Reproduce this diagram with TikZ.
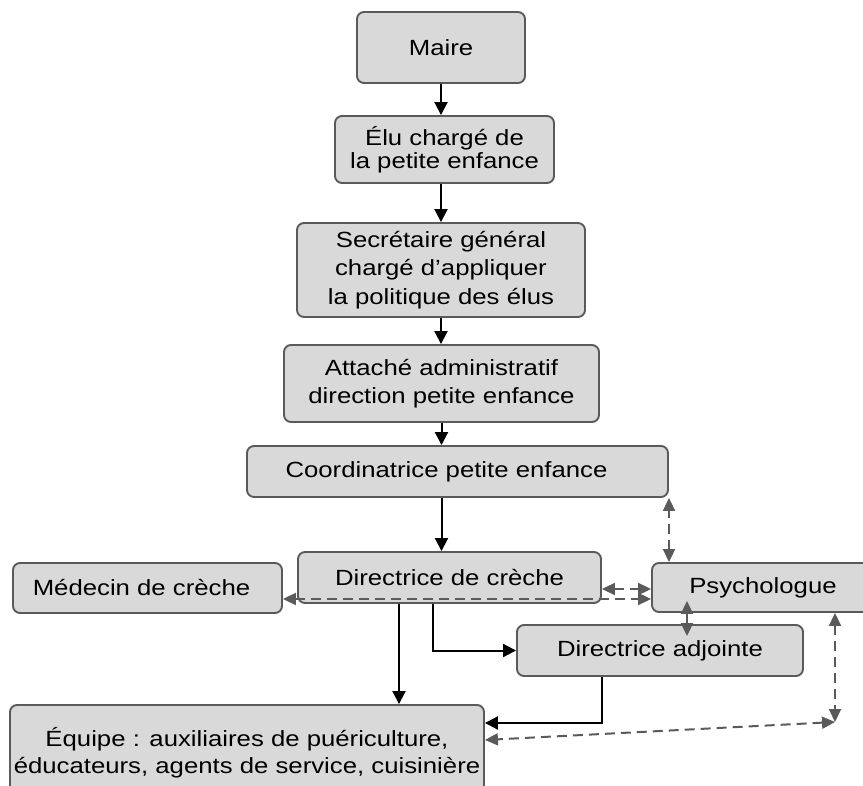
\documentclass[tikz,border=0pt]{standalone}
\usepackage{fontspec}
\setmainfont[FakeStretch=1.17]{Liberation Sans}
\usetikzlibrary{arrows.meta,calc}
\definecolor{boxfill}{HTML}{D9D9D9}
\definecolor{boxline}{HTML}{5A5A5A}
\definecolor{linkgray}{HTML}{5A5A5A}

\begin{document}
\begin{tikzpicture}[x=1pt,y=-1pt,
  orgbox/.style={draw=boxline, fill=boxfill, line width=1.9pt, rounded corners=7pt,
    inner sep=0pt, align=center, font=\fontsize{22}{28.5}\selectfont},
  solidlink/.style={draw=black, line width=2pt, -{Triangle[length=13pt,width=13pt]}},
  dlink/.style={draw=linkgray, line width=2pt, dash pattern=on 10pt off 6pt,
    {Triangle[length=13pt,width=12pt]}-{Triangle[length=13pt,width=12pt]}}
]
\useasboundingbox (0,0) rectangle (863,786);
\clip (0,0) rectangle (863,786);

% hierarchy boxes
\node[orgbox, minimum width=168pt, minimum height=71pt] (maire) at (441,47.5) {Maire};
\node[orgbox, minimum width=219pt, minimum height=67pt, font=\fontsize{22}{23}\selectfont]
  (elu) at (444.5,149.5) {Élu chargé de\\la petite enfance};
\node[orgbox, minimum width=288pt, minimum height=94pt] (secr) at (441,270)
  {Secrétaire général\\chargé d’appliquer\\la politique des élus};
\node[orgbox, minimum width=315pt, minimum height=77pt] (attache) at (441.5,383.5)
  {Attaché administratif\\direction petite enfance};
\node[orgbox, minimum width=421pt, minimum height=51pt] (coord) at (457.5,471.5)
  {Coordinatrice petite enfance\hspace*{22pt}};
\node[orgbox, minimum width=303pt, minimum height=51pt] (dir) at (449.5,577.5)
  {Directrice de crèche};
\node[orgbox, minimum width=269pt, minimum height=50pt] (med) at (147.5,588)
  {Médecin de crèche\hspace*{12pt}};
\node[orgbox, minimum width=222pt, minimum height=49pt] (psy) at (763,587.5)
  {Psychologue};
\node[orgbox, minimum width=286pt, minimum height=51pt] (adj) at (660,650.5)
  {Directrice adjointe};
\node[orgbox, minimum width=474pt, minimum height=95pt, font=\fontsize{22}{26.5}\selectfont]
  (equipe) at (247,752.5)
  {Équipe : auxiliaires de puériculture,\\éducateurs, agents de service, cuisinière};

% line of authority
\draw[solidlink] (maire.south) -- (maire.south |- elu.north);
\draw[solidlink] (maire.south |- elu.south) -- (maire.south |- secr.north);
\draw[solidlink] (maire.south |- secr.south) -- (maire.south |- attache.north);
\draw[solidlink] (attache.south) -- (attache.south |- coord.north);
\draw[solidlink] (attache.south |- coord.south) -- (attache.south |- dir.north);
\draw[solidlink] ([xshift=-50.5pt]dir.south) -- ([xshift=-50.5pt]dir.south |- equipe.north);
\draw[solidlink] ([xshift=-16.5pt]dir.south) |- (adj.west);
\draw[solidlink] ([xshift=-58pt]adj.south) |- ([yshift=29.5pt]equipe.east);

% collaboration links
\draw[dlink] ([xshift=-94pt]psy.north) -- ([xshift=-94pt]psy.north |- coord.south);
\draw[dlink] ([yshift=-11.5pt]dir.east) -- ([yshift=-11.5pt]dir.east -| psy.west);
\draw[dlink] ([yshift=-11pt]med.east) -- ([yshift=-11pt]med.east -| psy.west);
\draw[dlink, shorten <=-12pt, shorten >=-12pt]
  ([xshift=-76pt]psy.south) -- ([xshift=-76pt]psy.south |- adj.north);
\coordinate (corner) at (835,722);
\draw[dlink] ([xshift=72pt]psy.south) -- ([xshift=72pt]psy.south |- corner);
\draw[dlink] (corner) -- ([yshift=12.5pt]equipe.east);
\end{tikzpicture}
\end{document}
